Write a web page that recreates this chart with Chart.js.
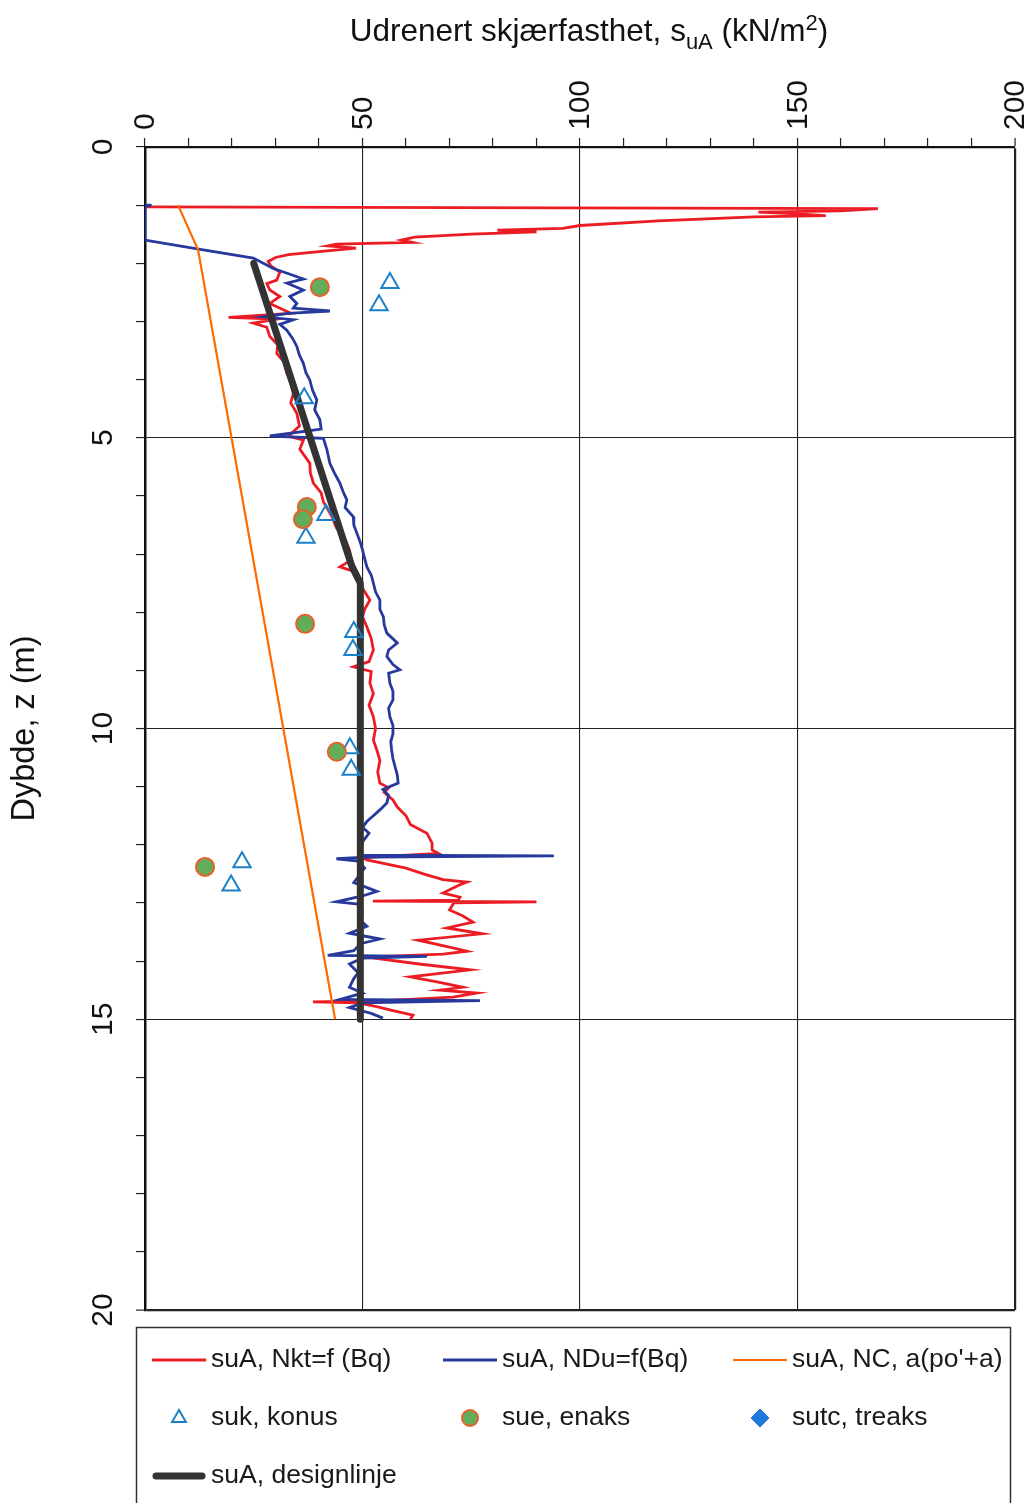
<!DOCTYPE html>
<html>
<head>
<meta charset="utf-8">
<script src="https://cdn.jsdelivr.net/npm/chart.js"></script>
<style>
  html, body { margin: 0; padding: 0; background: #fff; }
  #wrap { width: 1033px; height: 1503px; }
</style>
</head>
<body>
<div id="wrap"><canvas id="suChart" width="1033" height="1503"></canvas></div>
<script>
// suA, Nkt=f(Bq) - CPTU-tolket skjærfasthet (kPa) mot dybde (m)
const nktDepth = [1.03, 1.06, 1.10, 1.12, 1.15, 1.18, 1.20, 1.27, 1.35, 1.40, 1.43, 1.46, 1.50, 1.55, 1.60, 1.64, 1.67, 1.70, 1.74, 1.80, 1.85, 1.90, 1.97,
  2.05, 2.15, 2.29, 2.35, 2.46, 2.57, 2.69, 2.80, 2.86, 2.93, 2.96, 3.03, 3.10, 3.26, 3.40, 3.55, 3.70, 3.89, 4.05, 4.24, 4.40, 4.58, 4.80, 4.97,
  5.04, 5.20, 5.44, 5.60, 5.78, 5.95, 6.10, 6.36, 6.55, 6.75, 6.93, 7.10, 7.22, 7.30, 7.50, 7.65, 7.79, 7.95, 8.08, 8.25, 8.45, 8.65, 8.85, 8.94,
  9.02, 9.22, 9.40, 9.60, 9.80, 10.00, 10.20, 10.37, 10.55, 10.75, 10.94, 11.02, 11.10, 11.23, 11.35, 11.50, 11.65, 11.80, 11.97, 12.09, 12.15,
  12.22, 12.26, 12.40, 12.50, 12.60, 12.64, 12.70, 12.83, 12.90, 12.95, 12.97, 12.98, 13.00, 13.12, 13.22, 13.33, 13.43, 13.53, 13.64, 13.76,
  13.83, 13.88, 13.93, 14.05, 14.15, 14.27, 14.37, 14.45, 14.50, 14.55, 14.62, 14.68, 14.70, 14.72, 14.78, 14.85, 14.93, 15.00];
const nktSu = [0, 168.5, 160, 141, 150, 156.5, 140, 118, 100, 96, 81, 90, 75, 62, 59, 61.5, 44, 42, 48.5, 40, 33, 30, 28.3,
  29, 31, 30.3, 28, 28.7, 31, 28.7, 31.8, 33.5, 19.2, 30.3, 24.9, 28, 28.7, 30.5, 30.3, 32, 32.6, 33.5, 34.1, 33.5, 34.9, 35.5, 33,
  36.4, 35.6, 37.9, 38, 38.7, 40.5, 41, 43, 44, 46, 47, 47.5, 44.8, 48, 49.4, 50.5, 51.7, 50.5, 50, 51, 52, 52.5, 51.5, 47.9,
  52, 51.7, 52.5, 51.5, 52.5, 53, 52.5, 53.3, 54, 53.5, 54, 56, 55, 57, 58, 60, 61, 64.8, 66, 66, 67.5,
  50, 51, 60, 64, 68.5, 74, 72, 68.5, 72.4, 72, 52.4, 90, 71, 70, 73, 75.4, 69.4, 77.5, 62.8, 70,
  74, 68.5, 51, 63, 74.7, 61, 68, 73, 67.8, 76.3, 70.8, 55, 38.6, 49, 53, 57, 61.6, 61];

// suA, NDu=f(Bq)
const nduDepth = [1.00, 1.00, 1.02, 1.60, 1.75, 1.91, 2.09, 2.18, 2.27, 2.34, 2.46, 2.57, 2.69, 2.77, 2.82, 2.86, 2.92, 2.97, 3.05, 3.15, 3.30,
  3.43, 3.58, 3.72, 3.88, 4.01, 4.18, 4.35, 4.52, 4.69, 4.85, 4.97, 5.01, 5.20, 5.44, 5.60, 5.78, 5.92, 6.07, 6.20, 6.36, 6.50, 6.64, 6.80,
  6.93, 7.08, 7.22, 7.36, 7.50, 7.65, 7.79, 7.95, 8.08, 8.22, 8.36, 8.53, 8.65, 8.76, 8.90, 8.99, 9.05, 9.22, 9.36, 9.51, 9.65, 9.80, 9.95,
  10.09, 10.23, 10.37, 10.52, 10.66, 10.80, 10.94, 11.05, 11.15, 11.28, 11.40, 11.50, 11.60, 11.70, 11.80, 11.95, 12.10, 12.18, 12.19, 12.21,
  12.24, 12.28, 12.40, 12.55, 12.65, 12.75, 12.80, 12.88, 12.98, 13.02, 13.15, 13.30, 13.40, 13.52, 13.62, 13.70, 13.82, 13.90, 13.92, 13.95,
  14.05, 14.20, 14.30, 14.45, 14.55, 14.66, 14.68, 14.72, 14.80, 14.90, 14.98];
const nduSu = [0, 1.5, 0, 0, 12, 24.9, 29.5, 33, 36.4, 32.6, 36.4, 33.3, 34.9, 34.1, 42.5, 33, 27.2, 34.1, 31, 32.6, 34,
  34.9, 35.5, 36.4, 37, 37.9, 38.5, 39.5, 39, 40.2, 40.5, 28.7, 41, 41.8, 42.5, 43.5, 44.8, 45.5, 46.4, 46, 47.9, 48, 48.7, 49.5,
  50, 50.5, 51, 52, 52.5, 53, 54, 54, 54.8, 55, 55.6, 58, 56, 55.6, 57, 58.6, 56, 56.3, 57, 57, 56, 56.3, 57,
  57, 56.5, 56.7, 57, 57.5, 58, 58.2, 54.7, 56, 55.6, 54, 52.5, 51, 50, 51.5, 50, 49.5, 50, 94, 52,
  44, 49, 50.5, 49, 48, 51.5, 53.3, 50, 44, 49, 50, 49.5, 51, 47, 54, 49.5, 48, 42, 64.8, 50,
  47, 49, 48, 47, 50, 44.8, 77, 50, 47, 52, 54.7];

// suA, NC, a(po'+a)
const ncDepth = [1.0, 1.77, 15.0];
const ncSu = [7.6, 12.2, 43.7];

// suA, designlinje
const designDepth = [2.0, 7.2, 7.5, 15.0];
const designSu = [25, 47.5, 49.5, 49.5];

// suk, konus
const konusDepth = [2.34, 2.72, 4.32, 6.33, 6.72, 8.34, 8.65, 10.34, 10.71, 12.3, 12.7];
const konusSu = [56.3, 53.8, 36.6, 41.6, 37, 48, 47.8, 47.1, 47.4, 22.3, 19.8];

// sue, enaks
const enaksDepth = [2.41, 6.19, 6.4, 8.2, 10.4, 12.38];
const enaksSu = [40.2, 37.2, 36.3, 36.8, 44.1, 13.8];

// sutc, treaks (ingen forsøk)
const treaksDepth = [];
const treaksSu = [];

const xTicks = [0, 50, 100, 150, 200];
const yTicks = [0, 5, 10, 15, 20];

const pts = (su, z) => su.map((v, i) => ({ x: v, y: z[i] }));
const FONT = '"Liberation Sans", Arial, sans-serif';

const datasets = [
  { label: 'suA, Nkt=f (Bq)', data: pts(nktSu, nktDepth), showLine: true, borderColor: '#ec1c24',
    borderWidth: 2.8, pointRadius: 0, order: 5, kind: 'line' },
  { label: 'suA, NDu=f(Bq)', data: pts(nduSu, nduDepth), showLine: true, borderColor: '#27399c',
    borderWidth: 2.8, pointRadius: 0, order: 4, kind: 'line' },
  { label: "suA, NC, a(po'+a)", data: pts(ncSu, ncDepth), showLine: true, borderColor: '#ff6a00',
    borderWidth: 2.2, pointRadius: 0, order: 3, kind: 'line' },
  { label: 'suk, konus', data: pts(konusSu, konusDepth), showLine: false, pointStyle: 'triangle',
    pointRadius: 10, borderColor: '#1c80c8', backgroundColor: 'rgba(0,0,0,0)', borderWidth: 2, order: 1, kind: 'point', legendRadius: 8 },
  { label: 'sue, enaks', data: pts(enaksSu, enaksDepth), showLine: false, pointStyle: 'circle',
    pointRadius: 9, borderColor: '#e8602a', backgroundColor: '#63ad5a', borderWidth: 2, order: 0, kind: 'point', legendRadius: 8 },
  { label: 'sutc, treaks', data: pts(treaksSu, treaksDepth), showLine: false, pointStyle: 'rectRot',
    pointRadius: 9, borderColor: '#1f78de', backgroundColor: '#1f78de', borderWidth: 1, order: 0, kind: 'point', legendRadius: 9 },
  { label: 'suA, designlinje', data: pts(designSu, designDepth), showLine: true, borderColor: '#333333',
    borderWidth: 7, borderCapStyle: 'round', borderJoinStyle: 'round', pointRadius: 0, order: 2, kind: 'line' }
];

// axis title with subscript/superscript
const titlePlugin = {
  id: 'suTitle',
  afterDraw(chart) {
    const ctx = chart.ctx;
    const parts = [
      ['Udrenert skjærfasthet, s', 0, 31.5],
      ['uA', 8, 22],
      [' (kN/m', 0, 31.5],
      ['2', -11, 22],
      [')', 0, 31.5]
    ];
    ctx.save();
    let w = 0;
    parts.forEach(p => { ctx.font = p[2] + 'px ' + FONT; w += ctx.measureText(p[0]).width; });
    let x = 589 - w / 2;
    const base = 41;
    ctx.fillStyle = '#111';
    ctx.textBaseline = 'alphabetic';
    ctx.textAlign = 'left';
    parts.forEach(p => {
      ctx.font = p[2] + 'px ' + FONT;
      ctx.fillText(p[0], x, base + p[1]);
      x += ctx.measureText(p[0]).width;
    });
    ctx.restore();
  }
};

// rotated tick labels on both axes
const tickLabelPlugin = {
  id: 'rotTicks',
  afterDraw(chart) {
    const ctx = chart.ctx;
    const xs = chart.scales.x, ys = chart.scales.y;
    ctx.save();
    ctx.font = '30px ' + FONT;
    ctx.fillStyle = '#111';
    xTicks.forEach(v => {
      ctx.save();
      ctx.translate(xs.getPixelForValue(v) + 1, xs.bottom - 17);
      ctx.rotate(-Math.PI / 2);
      ctx.textAlign = 'left';
      ctx.textBaseline = 'middle';
      ctx.fillText(String(v), 0, 0);
      ctx.restore();
    });
    yTicks.forEach(v => {
      ctx.save();
      ctx.translate(ys.right - 33, ys.getPixelForValue(v));
      ctx.rotate(-Math.PI / 2);
      ctx.textAlign = 'center';
      ctx.textBaseline = 'alphabetic';
      ctx.fillText(String(v), 0, 0);
      ctx.restore();
    });
    ctx.restore();
  }
};

// boxed legend in three columns under the plot
const legendRows = [[0, 1, 2], [3, 4, 5], [6]];
const legendPlugin = {
  id: 'boxLegend',
  afterDraw(chart) {
    const ctx = chart.ctx;
    const colX = [150, 441, 731];
    const rowY = [1360, 1418, 1476];
    ctx.save();
    ctx.strokeStyle = '#333';
    ctx.lineWidth = 1.5;
    ctx.strokeRect(136.5, 1327.5, 874, 200);
    ctx.font = '26.5px ' + FONT;
    ctx.textBaseline = 'middle';
    ctx.textAlign = 'left';
    legendRows.forEach((row, r) => {
      row.forEach((di, c) => {
        const ds = chart.data.datasets[di];
        const x0 = colX[c], y = rowY[r];
        if (ds.kind === 'line') {
          ctx.beginPath();
          ctx.strokeStyle = ds.borderColor;
          ctx.lineWidth = ds.borderWidth;
          ctx.lineCap = ds.borderCapStyle || 'butt';
          const pad = ds.borderWidth > 4 ? 4 : 0;
          ctx.moveTo(x0 + 2 + pad, y);
          ctx.lineTo(x0 + 56 - pad, y);
          ctx.stroke();
        } else {
          ctx.fillStyle = ds.backgroundColor;
          ctx.strokeStyle = ds.borderColor;
          ctx.lineWidth = ds.borderWidth;
          Chart.helpers.drawPoint(ctx, { pointStyle: ds.pointStyle, radius: ds.legendRadius, borderWidth: ds.borderWidth, rotation: 0 }, x0 + 29, y);
        }
        ctx.fillStyle = '#1a1a1a';
        ctx.fillText(ds.label, x0 + 61, y);
      });
    });
    ctx.restore();
  }
};

const isMajor = (v, step) => Math.abs(v % step) < 1e-6;

new Chart(document.getElementById('suChart').getContext('2d'), {
  type: 'scatter',
  data: { datasets },
  options: {
    responsive: false,
    animation: false,
    events: [],
    layout: { padding: { left: 0, top: 0, right: 18, bottom: 193 } },
    plugins: { legend: { display: false }, tooltip: { enabled: false }, title: { display: false } },
    elements: { line: { tension: 0 } },
    scales: {
      x: {
        type: 'linear', position: 'top', min: 0, max: 200,
        ticks: { stepSize: 10, display: false, autoSkip: false },
        grid: {
          color: c => isMajor(c.tick.value, 50) ? '#222' : 'rgba(0,0,0,0)',
          lineWidth: c => c.tick.value === 200 ? 2.2 : 1.1,
          tickColor: '#222', tickWidth: 1.2, tickLength: 9
        },
        border: { color: '#111', width: 2.2 },
        afterFit: s => { s.height = 147; }
      },
      y: {
        type: 'linear', position: 'left', min: 0, max: 20, reverse: true,
        ticks: { stepSize: 1, display: false, autoSkip: false },
        grid: {
          color: c => isMajor(c.tick.value, 5) ? '#222' : 'rgba(0,0,0,0)',
          lineWidth: c => c.tick.value === 20 ? 2.2 : 1.1,
          tickColor: '#222', tickWidth: 1.2, tickLength: 9
        },
        border: { color: '#111', width: 2.5 },
        title: { display: true, text: 'Dybde, z (m)', color: '#111', font: { size: 32.5, family: FONT }, padding: { top: 6, bottom: 0 } },
        afterFit: s => { s.width = 145; }
      }
    }
  },
  plugins: [titlePlugin, tickLabelPlugin, legendPlugin]
});
</script>
</body>
</html>
